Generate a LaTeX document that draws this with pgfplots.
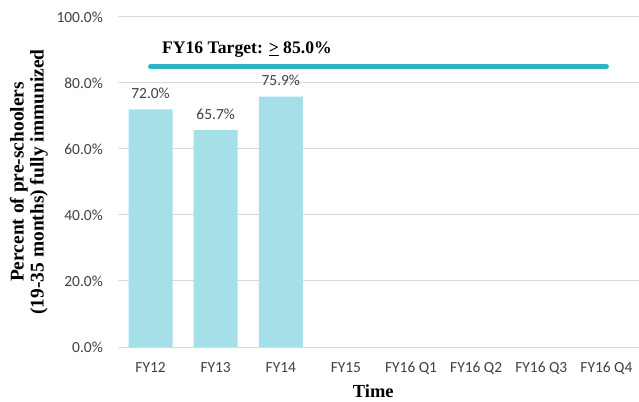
\documentclass[border=0pt]{standalone}
\usepackage{pgfplots}
\pgfplotsset{compat=1.18}
\usepackage{fontspec}
\setmainfont{Liberation Serif}
\newfontfamily\calibri{Carlito}
\definecolor{barc}{RGB}{165,223,232}
\definecolor{linec}{RGB}{44,179,196}
\definecolor{gridc}{RGB}{217,217,217}
\definecolor{txt}{RGB}{64,64,64}
\begin{document}
\begin{tikzpicture}
\useasboundingbox (-118bp,-55bp) rectangle (521bp,347bp);
\begin{axis}[
  at={(0,0)}, anchor=south west,
  scale only axis, width=521bp, height=330bp,
  xmin=-0.5, xmax=7.5, ymin=0, ymax=100,
  axis line style={draw=none},
  xtick={0,...,7},
  xticklabels={FY12,FY13,FY14,FY15,FY16 Q1,FY16 Q2,FY16 Q3,FY16 Q4},
  ytick={0,20,40,60,80,100},
  yticklabels={0.0\%,20.0\%,40.0\%,60.0\%,80.0\%,100.0\%},
  major tick length=0pt,
  ymajorgrids, grid style={gridc, line width=1bp},
  /pgf/number format/assume math mode=true,
  ticklabel style={font=\calibri\fontsize{15.5}{18}\selectfont, text=txt},
  xticklabel style={anchor=base, yshift=-25bp},
  yticklabel style={anchor=east, inner sep=0pt, xshift=-15bp},
  xlabel={\textbf{Time}},
  xlabel style={at={(axis description cs:0.49,-0.133)}, anchor=center, font=\fontsize{18.5}{20}\selectfont},
  ylabel={\textbf{Percent of pre-schoolers}\\\textbf{(19-35 months) fully immunized}},
  ylabel style={at={(axis description cs:-0.171,0.5)}, anchor=center, align=center, font=\fontsize{19.5}{20}\selectfont},
  clip=false,
]
\addplot[ybar, bar width=44bp, fill=barc, draw=none,
  nodes near coords={\pgfmathprintnumber[fixed,fixed zerofill,precision=1]{\pgfplotspointmeta}\%},
  every node near coord/.append style={anchor=base, yshift=11bp, font=\calibri\fontsize{15.5}{18}\selectfont, text=txt},
  point meta=y]
  coordinates {(0,72.0) (1,65.7) (2,75.9)};
\addplot[linec, line width=5bp, line cap=round] coordinates {(0,85) (7,85)};
\node[anchor=west, inner sep=0pt, font=\fontsize{17.7}{20}\selectfont\bfseries] at (axis cs:0.175,90) {FY16 Target: \underline{>} 85.0\%};
\end{axis}
\end{tikzpicture}
\end{document}
